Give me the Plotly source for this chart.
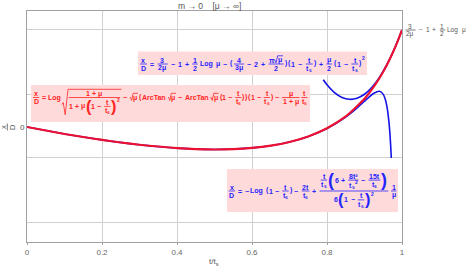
import plotly.graph_objects as go

# ---------------- data (y is x/D) ----------------
tau_exact = [0, 0.05, 0.1, 0.15, 0.2, 0.25, 0.3, 0.35, 0.4, 0.45, 0.5, 0.55, 0.6,
             0.65, 0.7, 0.75, 0.8, 0.85, 0.9, 0.925, 0.95, 0.975, 0.99, 1.0]
xd_exact = [0, -0.048, -0.094, -0.137, -0.175, -0.210, -0.241, -0.266, -0.287, -0.300,
            -0.305, -0.300, -0.284, -0.253, -0.203, -0.128, -0.017, 0.144, 0.384, 0.548,
            0.751, 1.006, 1.185, 1.318]

tau_small = [0, 0.1, 0.2, 0.3, 0.4, 0.5, 0.6, 0.65, 0.7, 0.75, 0.8, 0.85, 0.875, 0.9,
             0.91, 0.925, 0.94, 0.95, 0.955, 0.96, 0.965, 0.968, 0.97, 0.9715]
xd_small = [0, -0.094, -0.175, -0.241, -0.287, -0.305, -0.284, -0.254, -0.204, -0.129,
            -0.020, 0.136, 0.236, 0.350, 0.396, 0.458, 0.485, 0.443, 0.383, 0.272,
            0.076, -0.107, -0.271, -0.422]

tau_near = [0.79, 0.8, 0.82, 0.84, 0.86, 0.88, 0.9, 0.92, 0.94, 0.96, 0.98, 1.0]
xd_near = [0.641, 0.574, 0.468, 0.402, 0.377, 0.391, 0.445, 0.540, 0.674, 0.849, 1.063, 1.318]

x_ticks = [0, 0.2, 0.4, 0.6, 0.8, 1]
x_tick_labels = ["0", "0.2", "0.4", "0.6", "0.8", "1"]
y_grid = [1.318, 0.448, -0.421, -1.291]
y_range = [-1.5625, 1.576]

# ---------------- geometry ----------------
W, H = 469, 268
PL, PT, PW, PH = 27, 11, 375, 231

def px_x(x):
    return (x - PL) / PW

def px_y(y):
    return (PT + PH - y) / PH

FONT = "Liberation Sans"
BW = {' ': .278, '+': .584, '−': .584, '=': .584, '(': .333, ')': .333, 'x': .556,
      'D': .722, 'L': .611, 'o': .611, 'g': .611, 'μ': .577, 'π': .6, 'A': .722,
      'r': .389, 'c': .556, 'T': .611, 'a': .556, 'n': .611, 't': .333, 's': .556,
      '²': .333}
RW = {' ': .278, '+': .584, '−': .584, '=': .584, 'L': .556, 'o': .556, 'g': .556,
      'μ': .576}

def tw(s, bold):
    tb = BW if bold else RW
    return sum(tb.get(c, .556) for c in s)

OPS, FP, GAP = 0.3, 0.15, 0.15


class Formula:
    def __init__(self, fs, bold, color):
        self.fs, self.bold, self.color = fs, bold, color
        self.texts, self.paths = [], []

    def mlist(self, lst):
        fs = self.fs
        w, a, d, prev_a = 0, .45 * fs, .42 * fs, .45 * fs
        for el in lst:
            if el[0] == 'sup':
                w += .556 * .7 * fs
                a = max(a, prev_a * .8 + .3 * fs)
                continue
            ew, ea, ed = self.measure(el)
            w += ew
            if el[0] != 'sp':
                a, d, prev_a = max(a, ea), max(d, ed), ea
        return w, a, d

    def pfs(self, el, ai, di):
        big = len(el) > 2 and el[2]
        return max(self.fs, (ai + di) / 0.95) if big else self.fs

    def measure(self, el):
        fs, k = self.fs, el[0]
        if k == 't':
            return tw(el[1], self.bold) * fs, .45 * fs, .42 * fs
        if k == 'op':
            return (tw(el[1], self.bold) + 2 * OPS) * fs, .45 * fs, .42 * fs
        if k == 'sp':
            return el[1] * fs, 0, 0
        if k == 'ts':
            return (.333 + .556 * .7) * fs, .45 * fs, .6 * fs
        if k == 'f':
            wn, an, dn = self.mlist(el[1])
            wd, ad, dd = self.mlist(el[2])
            g = GAP * fs
            return max(wn, wd) + 2 * FP * fs, g + an + dn, g + ad + dd
        if k == 'p':
            wi, ai, di = self.mlist(el[1])
            p = self.pfs(el, ai, di)
            hh = .47 * p
            off = (di - ai) / 2 if p > fs else 0
            return wi + 2 * .333 * p + .1 * fs, max(ai, hh - off), max(di, hh + off)
        if k == 'sq':
            wi, ai, di = self.mlist(el[1])
            h = ai + di
            rw = .35 * fs + .15 * h
            return rw + wi + .1 * fs, ai + .15 * fs + 1, di
        return 0, 0, 0

    def text(self, s, x, y, size):
        self.texts.append((s, x, y, size))

    def rlist(self, lst, x, y):
        fs = self.fs
        prev_a = .45 * fs
        for el in lst:
            if el[0] == 'sup':
                self.text(el[1], x, y - max(prev_a * .8, .45 * fs), fs * .7)
                x += .556 * .7 * fs
                continue
            ew, ea, ed = self.measure(el)
            self.render(el, x, y)
            if el[0] != 'sp':
                prev_a = ea
            x += ew

    def render(self, el, x, y):
        fs, k = self.fs, el[0]
        if k == 't':
            self.text(el[1], x, y, fs)
        elif k == 'op':
            self.text(el[1], x + OPS * fs, y, fs)
        elif k == 'ts':
            self.text('t', x, y, fs)
            self.text('s', x + .333 * fs, y + .32 * fs, fs * .7)
        elif k == 'f':
            wn, an, dn = self.mlist(el[1])
            wd, ad, dd = self.mlist(el[2])
            Wf = max(wn, wd) + 2 * FP * fs
            g = GAP * fs
            self.rlist(el[1], x + (Wf - wn) / 2, y - g - dn)
            self.rlist(el[2], x + (Wf - wd) / 2, y + g + ad)
            self.paths.append(([(x + .08 * fs, y), (x + Wf - .08 * fs, y)], 0.8))
        elif k == 'p':
            wi, ai, di = self.mlist(el[1])
            p = self.pfs(el, ai, di)
            c = y + ((di - ai) / 2 if p > fs else 0)
            self.text('(', x, c - .087 * p, p)
            xi = x + .333 * p + .05 * fs
            self.rlist(el[1], xi, y)
            self.text(')', xi + wi + .05 * fs, c - .087 * p, p)
        elif k == 'sq':
            wi, ai, di = self.mlist(el[1])
            h = ai + di
            rw = .35 * fs + .15 * h
            top = y - ai - .15 * fs
            bot = y + di
            pts = [(x, bot - .42 * h), (x + .22 * rw, bot - .5 * h), (x + .55 * rw, bot),
                   (x + rw, top), (x + rw + wi + .1 * fs, top)]
            self.paths.append((pts, 0.8))
            self.rlist(el[1], x + rw, y)

    def build(self, lst, x0, y0, x_end=None):
        w, a, d = self.mlist(lst)
        self.rlist(lst, x0, y0)
        k = (x_end - x0) / w if x_end else 1.0
        anns, shapes = [], []
        for s, x, y, size in self.texts:
            anns.append(dict(text=s, x=px_x(x0 + k * (x - x0)), y=px_y(y), xref='paper',
                             yref='paper', xanchor='left', yanchor='middle', showarrow=False,
                             borderpad=0, borderwidth=0,
                             font=dict(family=FONT, size=size, color=self.color,
                                       weight='bold' if self.bold else 'normal')))
        for pts, lw in self.paths:
            path = "M " + " L ".join("%.5f,%.5f" % (px_x(x0 + k * (x - x0)), px_y(y))
                                     for x, y in pts)
            shapes.append(dict(type='path', xref='paper', yref='paper', path=path,
                               line=dict(color=self.color, width=lw), layer='above'))
        return anns, shapes


T = lambda s: ('t', s)
OP = lambda s: ('op', s)
SP = lambda e: ('sp', e)
TS = ('ts',)
XD = ('f', [T('x')], [T('D')])
TT = ('f', [T('t')], [TS])
ONE_MINUS = [T('1'), OP('−'), TT]

f_near = [XD, OP('='), ('f', [T('3')], [T('2μ')]), OP('−'), T('1'), OP('+'),
          ('f', [T('1')], [T('2')]), SP(.2), T('Log'), SP(.25), T('μ'), OP('−'),
          ('p', [('f', [T('4')], [T('3μ')]), OP('−'), T('2'), OP('+'),
                 ('f', [T('π'), ('sq', [T('μ')])], [T('2')])]),
          SP(.15), ('p', ONE_MINUS), OP('+'), ('f', [T('μ')], [T('2')]), SP(.15),
          ('p', ONE_MINUS), ('sup', '2')]

f_exact = [XD, OP('='), T('Log'), SP(.1),
           ('sq', [('f', [T('1'), OP('+'), T('μ')],
                    [T('1'), OP('+'), T('μ'), ('p', ONE_MINUS, True), ('sup', '2')])]),
           OP('−'), ('sq', [T('μ')]), SP(.2),
           ('p', [T('ArcTan'), SP(.2), ('sq', [T('μ')]), OP('−'), T('ArcTan'), SP(.2),
                  ('sq', [T('μ')]), SP(.15), ('p', ONE_MINUS)]),
           SP(.1), ('p', ONE_MINUS), OP('−'),
           ('f', [T('μ')], [T('1'), OP('+'), T('μ')]), SP(.1), TT]

f_small = [XD, OP('='), T('−'), SP(.2), T('Log'), SP(.2), ('p', ONE_MINUS), OP('−'),
           ('f', [T('2t')], [TS]), OP('+'),
           ('f', [TT, ('p', [T('6'), OP('+'), ('f', [T('8t²')], [TS, ('sup', '2')]),
                             OP('−'), ('f', [T('15t')], [TS])], True)],
            [T('6'), ('p', ONE_MINUS, True), ('sup', '2')]),
           SP(.2), ('f', [T('1')], [T('μ')])]

f_label = [('f', [T('3')], [T('2μ')]), OP('−'), T('1'), OP('+'), ('f', [T('1')], [T('2')]),
           SP(.2), T('Log'), SP(.25), T('μ')]

BLUE_TXT, RED_TXT, GRAY = '#2424ff', '#ff2424', '#555555'
PINK = '#ffdada'

annotations, shapes = [], []

def box(x0, y0, x1, y1):
    shapes.append(dict(type='rect', xref='paper', yref='paper', x0=px_x(x0), x1=px_x(x1),
                       y0=px_y(y1), y1=px_y(y0), fillcolor=PINK, line=dict(width=0),
                       layer='above'))

box(138, 51.5, 367, 75)
box(31, 85, 310, 122)
box(227, 169, 398, 212)

for lst, fs, bold, col, x0, y0, x1 in [
        (f_near, 7, True, BLUE_TXT, 139.5, 64, 365),
        (f_exact, 7, True, RED_TXT, 32.5, 97.5, 308),
        (f_small, 7, True, BLUE_TXT, 228, 191, 397),
        (f_label, 6.5, False, GRAY, 405, 30, 467)]:
    a, s = Formula(fs, bold, col).build(lst, x0, y0, x1)
    annotations += a
    shapes += s

annotations.append(dict(text="m \u2192 0\u00a0\u00a0\u00a0\u00a0[μ \u2192 \u221e]", x=px_x(209),
                        y=px_y(6), xref='paper', yref='paper', showarrow=False,
                        xanchor='center', yanchor='middle',
                        font=dict(family=FONT, size=8.5, color=GRAY)))
annotations.append(dict(text="t/t<sub>s</sub>", x=px_x(214), y=px_y(261.5), xref='paper',
                        yref='paper', showarrow=False, xanchor='center', yanchor='middle',
                        font=dict(family=FONT, size=8, color=GRAY)))
annotations.append(dict(text="0", x=px_x(22.5), y=px_y(127), xref='paper', yref='paper',
                        showarrow=False, xanchor='center', yanchor='middle',
                        font=dict(family=FONT, size=8, color=GRAY)))
annotations.append(dict(text="x", x=px_x(3), y=px_y(127), xref='paper', yref='paper',
                        showarrow=False, xanchor='center', yanchor='middle', textangle=-90,
                        font=dict(family=FONT, size=7.5, color=GRAY)))
annotations.append(dict(text="D", x=px_x(12), y=px_y(127), xref='paper', yref='paper',
                        showarrow=False, xanchor='center', yanchor='middle', textangle=-90,
                        font=dict(family=FONT, size=7.5, color=GRAY)))
shapes.append(dict(type='line', xref='paper', yref='paper', x0=px_x(7.3), x1=px_x(7.3),
                   y0=px_y(123.5), y1=px_y(130.5), line=dict(color=GRAY, width=0.8)))

fig = go.Figure()
fig.add_trace(go.Scatter(x=tau_small, y=xd_small, mode='lines',
                         line=dict(color='#1414e6', width=1.6, shape='spline', smoothing=0.6),
                         hoverinfo='skip'))
fig.add_trace(go.Scatter(x=tau_near, y=xd_near, mode='lines',
                         line=dict(color='#1414e6', width=1.7, shape='spline', smoothing=0.6),
                         hoverinfo='skip'))
fig.add_trace(go.Scatter(x=tau_exact, y=xd_exact, mode='lines',
                         line=dict(color='#ee1030', width=2.1, shape='spline', smoothing=0.6),
                         hoverinfo='skip'))

fig.update_layout(
    width=W, height=H, showlegend=False,
    margin=dict(l=PL, r=W - PL - PW, t=PT, b=H - PT - PH),
    paper_bgcolor='white', plot_bgcolor='white',
    xaxis=dict(range=[0, 1], tickvals=x_ticks, ticktext=x_tick_labels, showgrid=True,
               gridcolor='#d0d0d0', gridwidth=1, zeroline=False, showline=True, mirror=True,
               linecolor='#a0a0a0', linewidth=1, ticks='outside', ticklen=2,
               tickcolor='#a0a0a0', tickfont=dict(family=FONT, size=8, color='#666666')),
    yaxis=dict(range=y_range, tickvals=y_grid, showticklabels=False, showgrid=True,
               gridcolor='#d0d0d0', gridwidth=1, zeroline=False, showline=True, mirror=True,
               linecolor='#a0a0a0', linewidth=1, ticks=''),
    annotations=annotations, shapes=shapes,
)

fig.write_html("out.html", config={'displayModeBar': False},
               post_script="document.body.style.margin='0';document.body.style.padding='0';"
                           "document.body.style.overflow='hidden';")
